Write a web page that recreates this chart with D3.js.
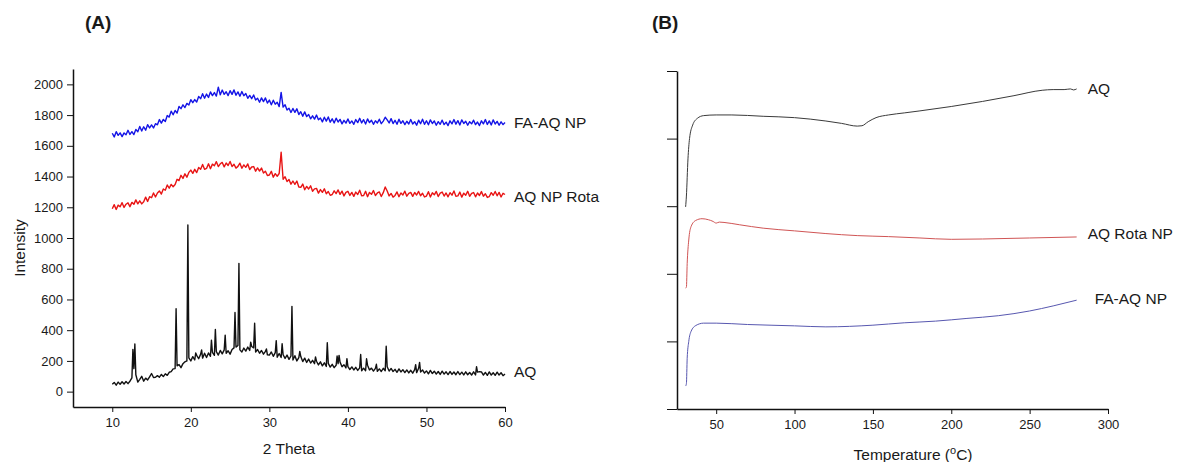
<!DOCTYPE html>
<html>
<head>
<meta charset="utf-8">
<script src="https://cdn.jsdelivr.net/npm/d3@7"></script>
<style>
  body { margin: 0; background: #fff; }
  text { font-family: "Liberation Sans", Arial, sans-serif; fill: #1a1a1a; }
  .axis path, .axis line { stroke: #111; }
</style>
</head>
<body>
<div id="chart"></div>
<script>
// ---------- Panel A : XRD, one reading every 0.25 deg from 10 to 60 ----------
var thetaStart = 10, thetaStep = 0.25;

var faAqNp = [
  1682,1658,1692,1668,1684,1660,1684,1672,
  1701,1674,1692,1673,1707,1692,1726,1696,
  1724,1702,1738,1716,1736,1716,1744,1737,
  1771,1748,1772,1758,1797,1787,1826,1802,
  1830,1813,1856,1842,1867,1849,1876,1866,
  1900,1881,1901,1885,1921,1907,1939,1910,
  1937,1915,1951,1927,1947,1924,1982,1932,
  1963,1935,1952,1927,1959,1935,1964,1929,
  1951,1923,1953,1926,1940,1909,1928,1907,
  1931,1898,1910,1884,1912,1888,1912,1878,
  1898,1867,1897,1871,1884,1855,1948,1852,
  1867,1833,1845,1817,1843,1818,1841,1804,
  1822,1792,1821,1790,1804,1776,1795,1774,
  1800,1769,1781,1756,1786,1761,1788,1754,
  1776,1749,1780,1755,1772,1743,1766,1748,
  1775,1746,1762,1740,1771,1751,1779,1749,
  1770,1742,1775,1751,1766,1740,1763,1749,
  1773,1744,1761,1786,1769,1749,1777,1745,
  1766,1740,1773,1746,1763,1738,1760,1742,
  1771,1742,1757,1734,1767,1744,1773,1740,
  1763,1737,1769,1745,1762,1734,1757,1740,
  1767,1738,1754,1732,1763,1743,1771,1741,
  1764,1736,1769,1745,1760,1734,1757,1743,
  1767,1738,1755,1732,1763,1743,1771,1739,
  1762,1736,1769,1742,1759,1734,1756,1738,
  1752
];

var aqNpRota = [
  1190,1217,1186,1214,1203,1230,1199,1220,
  1229,1204,1232,1219,1248,1222,1242,1222,
  1236,1266,1238,1269,1262,1293,1267,1293,
  1306,1286,1319,1311,1345,1324,1349,1334,
  1348,1382,1374,1408,1388,1418,1396,1427,
  1442,1421,1447,1426,1459,1447,1479,1447,
  1453,1483,1451,1481,1470,1497,1465,1483,
  1492,1463,1488,1472,1498,1465,1480,1455,
  1466,1487,1454,1476,1460,1482,1446,1462,
  1465,1435,1456,1436,1455,1423,1435,1407,
  1410,1434,1396,1419,1402,1420,1558,1382,
  1399,1367,1381,1350,1371,1349,1371,1332,
  1330,1351,1314,1336,1319,1340,1304,1320,
  1323,1292,1315,1297,1320,1288,1303,1278,
  1283,1307,1289,1313,1284,1305,1274,1297,
  1304,1277,1297,1271,1299,1283,1311,1275,
  1277,1304,1269,1297,1284,1309,1276,1293,
  1300,1270,1295,1332,1306,1274,1290,1266,
  1277,1300,1269,1293,1280,1305,1272,1291,
  1297,1271,1296,1280,1303,1275,1291,1267,
  1273,1301,1267,1294,1281,1303,1270,1292,
  1299,1273,1293,1268,1295,1279,1306,1272,
  1274,1299,1266,1292,1279,1304,1271,1290,
  1296,1268,1293,1277,1302,1272,1288,1264,
  1270,1295,1278,1303,1275,1297,1267,1291,
  1283
];

// AQ: background readings plus the sharp crystalline peaks
var aqBase = [
  48,60,42,62,48,64,50,66,
  52,68,90,150,110,62,80,100,
  68,88,76,96,118,92,94,104,
  94,112,98,116,106,126,130,148,
  150,168,176,156,182,194,200,220,
  200,228,206,236,214,244,218,250,
  222,252,230,256,236,260,238,268,
  246,272,250,266,244,274,285,290,
  300,272,258,284,264,290,268,294,
  285,258,274,250,268,244,262,240,
  238,258,230,254,224,248,222,240,
  216,238,210,232,206,234,200,222,
  228,196,218,190,212,186,204,182,
  198,174,194,168,188,164,184,160,
  178,156,172,182,192,162,175,154,
  163,144,161,141,158,138,155,136,
  153,136,172,141,153,134,151,132,
  148,131,152,136,162,134,151,131,
  145,126,148,128,143,124,141,122,
  139,120,143,124,152,128,141,121,
  135,116,138,118,133,114,131,112,
  133,114,129,111,131,112,128,110,
  131,111,127,109,129,110,125,108,
  129,109,127,130,128,108,125,106,
  128,108,123,106,127,108,123,104,
  115
];
var aqPeaks = [
  [12.625,275],[12.875,310],[18.125,540],[19.625,1085],[20.625,252],
  [21.375,272],[22.625,335],[23.125,405],[24.375,368],[25.625,515],
  [26.125,835],[27.625,322],[28.125,445],[29.625,278],[30.875,332],
  [31.625,312],[32.875,555],[33.875,262],[35.875,226],[37.375,318],
  [38.625,232],[38.875,236],[39.875,215],[41.625,242],[42.375,214],
  [43.625,178],[44.875,296],[48.625,176],[49.125,190],[56.375,162]
];

var xrdNames = ["FA-AQ NP", "AQ NP Rota", "AQ"];
var xrdColors = ["#1414e6", "#e81414", "#111111"];
var xrdXTicks = [10, 20, 30, 40, 50, 60];
var xrdYTicks = [0, 200, 400, 600, 800, 1000, 1200, 1400, 1600, 1800, 2000];

// ---------- Panel B : DSC, [temperature, heat flow (a.u.)] ----------
var dscAQ = [
  [30.5,5.98],[31,6.3],[32,7.4],[33,8.0],[35,8.4],[38,8.6],[42,8.68],[50,8.70],
  [60,8.70],[80,8.66],[100,8.62],[120,8.52],[130,8.45],[140,8.37],[143,8.38],
  [147,8.5],[152,8.62],[160,8.70],[170,8.76],[180,8.82],[200,8.95],[220,9.10],
  [240,9.27],[258,9.43],[265,9.45],[272,9.45],[276,9.47],[278,9.44],[280,9.47]
];
var dscAQRota = [
  [30.5,3.58],[31,3.6],[31.5,4.3],[32.5,5.0],[34,5.4],[37,5.58],[41,5.63],[45,5.6],
  [48,5.55],[50,5.5],[52,5.53],[55,5.52],[65,5.45],[80,5.35],[100,5.27],[120,5.19],
  [140,5.13],[160,5.1],[180,5.06],[200,5.02],[220,5.03],[250,5.06],[280,5.09]
];
var dscFAAQ = [
  [30.5,0.68],[31,0.75],[31.5,1.5],[32.5,2.0],[34,2.3],[37,2.47],[42,2.54],[50,2.54],
  [70,2.5],[100,2.46],[120,2.43],[150,2.48],[170,2.55],[190,2.6],[210,2.68],
  [230,2.76],[250,2.9],[265,3.05],[280,3.22]
];
var dscNames = ["AQ", "AQ Rota NP", "FA-AQ NP"];
var dscColors = ["#3a3a3a", "#d05555", "#5858b0"];
var dscXTicks = [50, 100, 150, 200, 250, 300];

// append the svg object to the body of the page
var svg = d3.select("#chart")
  .append("svg")
    .attr("width", 1178)
    .attr("height", 462)
    .style("background", "#fff");

// panel letters
svg.append("text").attr("x", 85).attr("y", 29).text("(A)")
  .style("font-weight", "bold").style("font-size", "19px");
svg.append("text").attr("x", 652).attr("y", 29).text("(B)")
  .style("font-weight", "bold").style("font-size", "19px");

// ======== Panel A ========
var xA = d3.scaleLinear().domain([5, 60]).range([73, 505]);
var yA = d3.scaleLinear().domain([-100, 2100]).range([407, 69]);

function toPairs(values) {
  return values.map(function(v, i) { return [thetaStart + i * thetaStep, v]; });
}
var aqSeries = toPairs(aqBase).concat(aqPeaks).sort(function(a, b) { return a[0] - b[0]; });
var xrdSeries = [toPairs(faAqNp), toPairs(aqNpRota), aqSeries];

var lineA = d3.line()
  .x(function(d) { return xA(d[0]); })
  .y(function(d) { return yA(d[1]); });

var gA = svg.append("g");
gA.selectAll("path.xrd")
  .data(xrdSeries)
  .enter()
  .append("path")
    .attr("class", "xrd")
    .attr("d", lineA)
    .attr("fill", "none")
    .attr("stroke", function(d, i) { return xrdColors[i]; })
    .attr("stroke-width", 1.4)
    .attr("stroke-linejoin", "round");

// labels next to the end of each trace
gA.selectAll("text.lab")
  .data(xrdSeries)
  .enter()
  .append("text")
    .attr("class", "lab")
    .attr("x", function(d) { return xA(d[d.length - 1][0]) + 9; })
    .attr("y", function(d, i) { return yA(d[d.length - 1][1]) + [0, 2, -2][i]; })
    .attr("dy", "0.35em")
    .style("font-size", "15.5px")
    .text(function(d, i) { return xrdNames[i]; });

// axes (major + minor ticks)
var axA = gA.append("g").attr("class", "axis").attr("transform", "translate(0,407)");
axA.call(d3.axisBottom(xA).tickValues([15, 25, 35, 45, 55]).tickSize(4).tickSizeOuter(0).tickFormat(""));
axA.call(d3.axisBottom(xA).tickValues(xrdXTicks).tickSize(5).tickSizeOuter(0).tickPadding(6));
var ayA = gA.append("g").attr("class", "axis").attr("transform", "translate(73,0)");
ayA.call(d3.axisLeft(yA).tickValues(d3.range(-100, 2101, 200)).tickSize(3).tickSizeOuter(0).tickFormat(""));
ayA.call(d3.axisLeft(yA).tickValues(xrdYTicks).tickSize(6).tickSizeOuter(0).tickPadding(4).tickFormat(d3.format("d")));
gA.selectAll(".axis text").style("font-size", "13px").style("font-family", "Liberation Sans, Arial, sans-serif");
gA.selectAll(".axis path").attr("stroke-width", 1.5);

gA.append("text").attr("x", 289).attr("y", 454).attr("text-anchor", "middle")
  .style("font-size", "15.5px").text("2 Theta");
gA.append("text").attr("transform", "translate(25,248) rotate(-90)").attr("text-anchor", "middle")
  .style("font-size", "15.5px").text("Intensity");

// ======== Panel B ========
var xB = d3.scaleLinear().domain([25, 300]).range([677, 1108]);
var yB = d3.scaleLinear().domain([0, 10]).range([409, 71]);

var dscSeries = [dscAQ, dscAQRota, dscFAAQ];
var lineB = d3.line()
  .curve(d3.curveMonotoneX)
  .x(function(d) { return xB(d[0]); })
  .y(function(d) { return yB(d[1]); });

var gB = svg.append("g");
gB.selectAll("path.dsc")
  .data(dscSeries)
  .enter()
  .append("path")
    .attr("class", "dsc")
    .attr("d", lineB)
    .attr("fill", "none")
    .attr("stroke", function(d, i) { return dscColors[i]; })
    .attr("stroke-width", 1);

gB.selectAll("text.lab")
  .data(dscSeries)
  .enter()
  .append("text")
    .attr("class", "lab")
    .attr("x", function(d, i) { return xB(d[d.length - 1][0]) + [11, 11, 18][i]; })
    .attr("y", function(d, i) { return yB(d[d.length - 1][1]) + [0, -3, -2][i]; })
    .attr("dy", "0.35em")
    .style("font-size", "15.5px")
    .text(function(d, i) { return dscNames[i]; });

var axB = gB.append("g").attr("class", "axis").attr("transform", "translate(0,409)");
axB.call(d3.axisBottom(xB).tickValues([75, 125, 175, 225, 275]).tickSize(3).tickSizeOuter(0).tickFormat(""));
axB.call(d3.axisBottom(xB).tickValues(dscXTicks).tickSize(5).tickSizeOuter(0).tickPadding(6));
var ayB = gB.append("g").attr("class", "axis").attr("transform", "translate(677,0)");
ayB.call(d3.axisLeft(yB).tickValues([1, 3, 5, 7, 9]).tickSize(4).tickSizeOuter(0).tickFormat(""));
ayB.call(d3.axisLeft(yB).tickValues([0, 2, 4, 6, 8, 10]).tickSize(10).tickSizeOuter(0).tickFormat(""));
gB.selectAll(".axis text").style("font-size", "13px").style("font-family", "Liberation Sans, Arial, sans-serif");
gB.selectAll(".axis path").attr("stroke-width", 1.5);

var tl = gB.append("text").attr("x", 913).attr("y", 460).attr("text-anchor", "middle")
  .style("font-size", "15.5px");
tl.append("tspan").text("Temperature (");
tl.append("tspan").attr("dy", "-6").style("font-size", "11px").text("o");
tl.append("tspan").attr("dy", "6").text("C)");
</script>
</body>
</html>
